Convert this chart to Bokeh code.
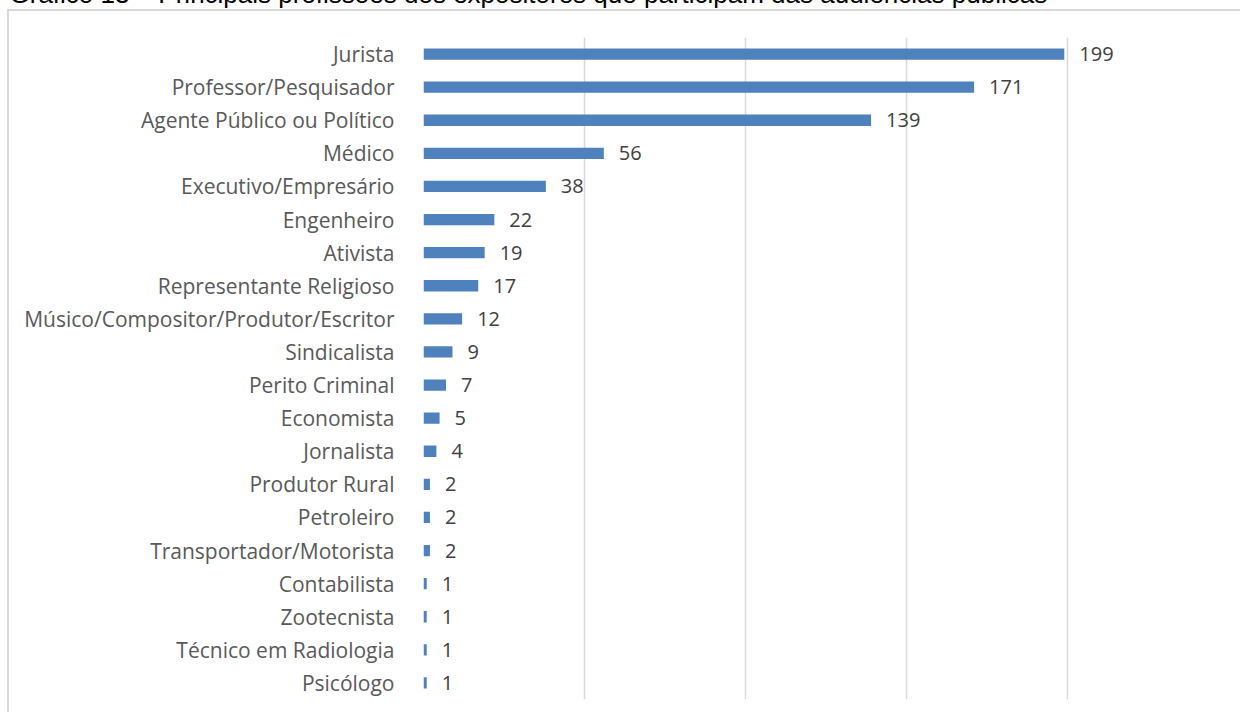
from bokeh.plotting import figure
from bokeh.models import ColumnDataSource, LabelSet, FactorRange, Range1d, FixedTicker
from bokeh.core.properties import value
from bokeh.embed import file_html
from bokeh.resources import INLINE

title = "Gráfico 13 – Principais profissões dos expositores que participam das audiências públicas"
categories = ["Jurista", "Professor/Pesquisador", "Agente Público ou Político", "Médico",
              "Executivo/Empresário", "Engenheiro", "Ativista", "Representante Religioso",
              "Músico/Compositor/Produtor/Escritor", "Sindicalista", "Perito Criminal",
              "Economista", "Jornalista", "Produtor Rural", "Petroleiro",
              "Transportador/Motorista", "Contabilista", "Zootecnista",
              "Técnico em Radiologia", "Psicólogo"]
values = [199, 171, 139, 56, 38, 22, 19, 17, 12, 9, 7, 5, 4, 2, 2, 2, 1, 1, 1, 1]
x_ticks = [0, 50, 100, 150, 200, 250]

W, H = 1248, 775
# canvas sits at page (-7, -62); borders chosen so the frame spans page x 424..1229, y 38..700
p = figure(width=W, height=H, output_backend="svg", toolbar_location=None,
           y_range=FactorRange(*reversed(categories), range_padding=0),
           x_range=Range1d(0, 250),
           min_border_left=431, min_border_right=12, min_border_top=100, min_border_bottom=13,
           margin=(-63, 0, 0, -8))
p.outline_line_color = None
p.background_fill_color = "white"
p.border_fill_color = None
p.styles = {
    "background": ("linear-gradient(#D9D9D9,#D9D9D9) 15px 72px / 2px 100% no-repeat, "
                   "linear-gradient(#D9D9D9,#D9D9D9) 15px 72px / 100% 2px no-repeat, white"),
}

p.title.text = title
p.title.align = "left"
p.title.offset = 10 - 424
p.title.standoff = 57
p.title.text_font = "Liberation Sans"
p.title.text_font_size = "26px"
p.title.text_font_style = "normal"
p.title.text_color = "#000000"

src = ColumnDataSource(dict(cat=categories, val=values, lab=[str(v) for v in values]))
p.hbar(y="cat", right="val", left=0, height=0.34, source=src,
       fill_color="#4F81BD", line_color=None)

labels = LabelSet(x="val", y="cat", text="lab", source=src, x_offset=15,
                  text_baseline="middle", text_font_size="20px",
                  text_font=value("Open Sans"), text_color="#404040")
p.add_layout(labels)

p.xaxis.visible = False
p.xgrid.ticker = FixedTicker(ticks=x_ticks)
p.xgrid.grid_line_color = "#D9D9D9"
p.xgrid.grid_line_width = 1.5
p.ygrid.grid_line_color = None

ya = p.yaxis[0]
ya.axis_line_color = None
ya.major_tick_line_color = None
ya.minor_tick_line_color = None
ya.major_label_standoff = 23
ya.major_label_text_font = "Open Sans"
ya.major_label_text_font_size = "21px"
ya.major_label_text_color = "#595959"

open("out.html", "w").write(file_html(p, INLINE))
